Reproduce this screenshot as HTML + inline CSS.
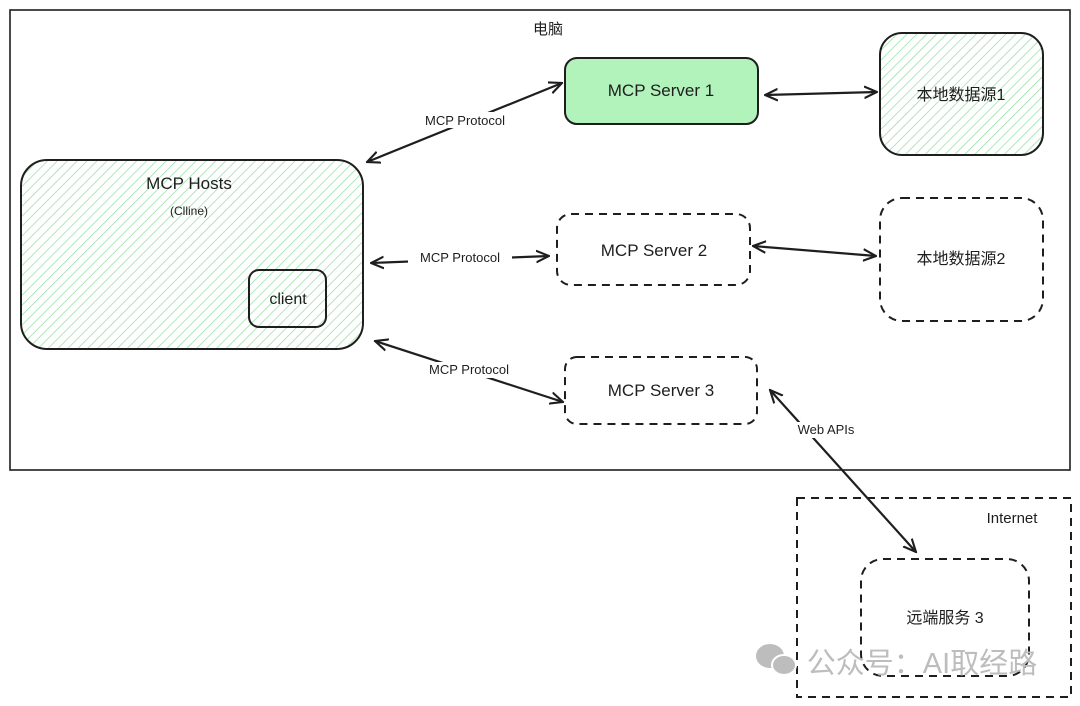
<!DOCTYPE html>
<html><head><meta charset="utf-8"><style>
html,body{margin:0;padding:0;background:#fff}
svg{display:block}
text{font-family:"Liberation Sans","Noto Sans CJK SC",sans-serif;fill:#1e1e1e}
</style></head><body>
<svg width="1080" height="706" viewBox="0 0 1080 706" xmlns="http://www.w3.org/2000/svg">
<defs>
<pattern id="h" width="7" height="7" patternUnits="userSpaceOnUse" patternTransform="rotate(45)">
<rect width="7" height="7" fill="#fff"/>
<line x1="0" y1="0" x2="0" y2="7" stroke="#8fdc9e" stroke-width="1.4"/>
</pattern>
<marker id="a" viewBox="0 0 12 12" refX="11" refY="6" markerWidth="14" markerHeight="14" orient="auto-start-reverse" markerUnits="userSpaceOnUse">
<path d="M0,1 L11,6 L0,11" fill="none" stroke="#1e1e1e" stroke-width="1.8"/>
</marker>
</defs>
<rect x="10" y="10" width="1060" height="460" fill="none" stroke="#1e1e1e" stroke-width="1.6"/>
<text x="548" y="34" font-size="15" text-anchor="middle">电脑</text>

<rect x="21" y="160" width="342" height="189" rx="26" fill="url(#h)" stroke="#1e1e1e" stroke-width="2"/>
<text x="189" y="189" font-size="17" text-anchor="middle">MCP Hosts</text>
<text x="189" y="215" font-size="12" text-anchor="middle">(Clline)</text>
<rect x="249" y="270" width="77" height="57" rx="10" fill="url(#h)" stroke="#1e1e1e" stroke-width="2"/>
<text x="288" y="304" font-size="16" text-anchor="middle">client</text>

<rect x="565" y="58" width="193" height="66" rx="12" fill="#b2f2bb" stroke="#1e1e1e" stroke-width="2"/>
<text x="661" y="96" font-size="17" text-anchor="middle">MCP Server 1</text>
<rect x="880" y="33" width="163" height="122" rx="22" fill="url(#h)" stroke="#1e1e1e" stroke-width="2"/>
<text x="961" y="100" font-size="16" text-anchor="middle">本地数据源1</text>

<g fill="none" stroke="#1e1e1e" stroke-width="2" stroke-dasharray="8 6">
<rect x="557" y="214" width="193" height="71" rx="14"/>
<rect x="880" y="198" width="163" height="123" rx="22"/>
<rect x="565" y="357" width="192" height="67" rx="12"/>
<rect x="797" y="498" width="274" height="199" stroke-width="2"/>
<rect x="861" y="559" width="168" height="117" rx="22"/>
</g>
<text x="654" y="256" font-size="17" text-anchor="middle">MCP Server 2</text>
<text x="961" y="264" font-size="16" text-anchor="middle">本地数据源2</text>
<text x="661" y="396" font-size="17" text-anchor="middle">MCP Server 3</text>
<text x="1012" y="523" font-size="15" text-anchor="middle">Internet</text>
<text x="945" y="623" font-size="16" text-anchor="middle">远端服务 3</text>

<g stroke="#1e1e1e" stroke-width="2.2" fill="none" marker-start="url(#a)" marker-end="url(#a)">
<line x1="367" y1="162" x2="562" y2="83"/>
<line x1="371" y1="263" x2="549" y2="256"/>
<line x1="375" y1="341" x2="563" y2="402"/>
<line x1="765" y1="95" x2="877" y2="92"/>
<line x1="753" y1="246" x2="876" y2="256"/>
<line x1="770" y1="390" x2="916" y2="552"/>
</g>
<g font-size="13" text-anchor="middle">
<rect x="413" y="112" width="106" height="16" fill="#fff"/>
<text x="465" y="125">MCP Protocol</text>
<rect x="408" y="250" width="104" height="16" fill="#fff"/>
<text x="460" y="262">MCP Protocol</text>
<rect x="416" y="362" width="106" height="16" fill="#fff"/>
<text x="469" y="374">MCP Protocol</text>
<rect x="789" y="422" width="74" height="16" fill="#fff"/>
<text x="826" y="434">Web APIs</text>
</g>

<g fill="#bdbdbd">
<ellipse cx="770" cy="656" rx="14" ry="12"/>
<ellipse cx="784" cy="665" rx="12" ry="10" stroke="#fff" stroke-width="2"/>
</g>
<text x="922" y="673" font-size="29" text-anchor="middle" style="fill:#bdbdbd">公众号：AI取经路</text>
</svg>
</body></html>
